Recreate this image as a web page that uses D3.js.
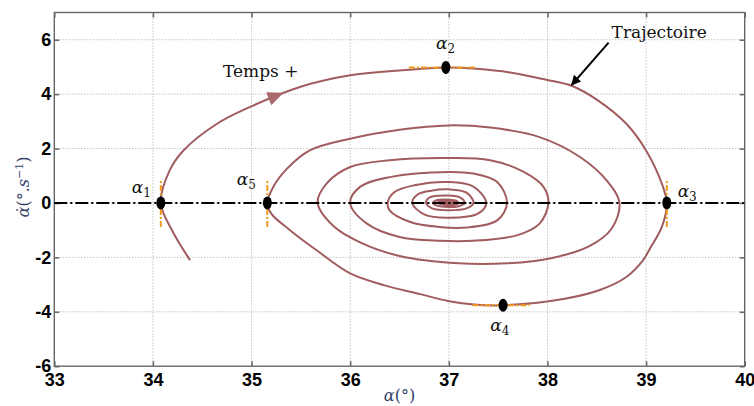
<!DOCTYPE html>
<html><head><meta charset="utf-8">
<script src="https://cdn.jsdelivr.net/npm/d3@7"></script>
<style>body{margin:0;background:#fff} svg{display:block}</style>
</head><body><svg id="c" width="754" height="406"></svg>
<script>
// ---- data ----
const xTicks = [33, 34, 35, 36, 37, 38, 39, 40];
const yTicks = [-6, -4, -2, 0, 2, 4, 6];
const xDomain = [33, 40];
const yDomain = [-6, 7];

const trajX = [34.376,34.20,34.08,34.17,34.31,34.65,34.98,35.49,36.00,36.50,36.97,37.28,37.65,37.99,38.25,38.50,38.80,39.00,39.16,39.21,39.16,39.04,38.97,38.80,38.53,38.19,37.55,37.25,36.99,36.71,36.35,36.00,35.66,35.39,35.20,35.16,
  35.22,35.36,35.59,36.00,36.50,37.00,37.42,37.92,38.33,38.60,38.73,38.65,38.42,38.05,37.59,37.10,36.50,36.10,35.83,35.67,
  35.76,36.00,36.40,37.00,37.42,37.76,37.96,38.01,37.92,37.69,37.25,36.91,36.50,36.17,36.00,
  36.10,36.40,37.00,37.25,37.49,37.59,37.49,37.18,36.90,36.61,36.40,36.38,
  36.45,36.65,37.00,37.25,37.38,37.30,37.00,36.75,36.63,
  36.68,36.82,37.00,37.18,37.25,37.18,37.00,36.83,36.77,
  36.80,37.00,37.12,37.16,37.10,37.00,36.88,36.84,
  36.87,37.00,37.08,37.10,37.05,37.00,36.92,36.89,
  36.91,37.00,37.07,37.09,37.04,36.97,36.91,
  36.93,37.00,37.06,37.07,37.03,36.96,36.94,
  36.95,37.01,37.05,37.05,37.01,36.96,
  36.97,37.02,37.04,37.00,36.98,
  36.99,37.02,37.02,37.00];
const trajY = [-2.10,-1.05,0,1.20,1.93,2.91,3.52,4.26,4.69,4.87,4.98,4.93,4.78,4.53,4.30,3.80,2.91,1.93,0.71,0,-0.88,-1.67,-2.10,-2.72,-3.20,-3.51,-3.76,-3.73,-3.60,-3.35,-3.03,-2.59,-1.74,-1.00,-0.39,0,
  0.59,1.26,1.93,2.36,2.69,2.85,2.77,2.42,1.69,0.83,0,-0.95,-1.60,-2.02,-2.22,-2.22,-1.95,-1.45,-0.85,0,
  0.71,1.32,1.57,1.65,1.57,1.14,0.59,0,-0.76,-1.19,-1.39,-1.39,-1.25,-0.76,0,
  0.59,0.95,1.14,1.08,0.77,0,-0.64,-0.90,-0.88,-0.70,-0.27,0,
  0.40,0.65,0.77,0.60,0,-0.38,-0.54,-0.42,0,
  0.30,0.45,0.50,0.38,0,-0.20,-0.27,-0.20,0,
  0.19,0.27,0.19,0,-0.12,-0.15,-0.10,0,
  0.09,0.12,0.08,0,-0.07,-0.08,-0.05,0,
  0.08,0.10,0.06,0,-0.06,-0.07,0,
  0.05,0.07,0.03,0,-0.04,-0.04,0,
  0.04,0.05,0.02,-0.02,-0.03,0,
  0.03,0.03,0,-0.02,0,
  0.01,0.01,0,0];

const markerIdx = ["1", "2", "3", "4", "5"];
const markerX = [34.08, 36.97, 39.21, 37.55, 35.16];
const markerY = [0, 4.98, 0, -3.76, 0];
const tangentDir = ["v", "h", "v", "h", "v"];
const tangentLo = [-0.88, -0.375, -0.88, -0.31, -0.88];
const tangentHi = [0.88, 0.31, 0.88, 0.27, 0.88];
const labelX = [33.785, 36.87, 39.32, 37.42, 34.85];
const labelY = [0.38, 5.65, 0.23, -4.69, 0.66];

const timeArrowAt = [35.25, 3.85];
const timeText = "Temps +", timeTextAt = [34.71, 4.64];
const trajText = "Trajectoire", trajTextAt = [38.65, 6.05];
const trajArrowFrom = [38.62, 5.89], trajArrowTo = [38.246, 4.34];

// ---- layout ----
const svg = d3.select("#c");
const L = 54.3, R = 744.7, T = 12.5, B = 366.2;
const x = d3.scaleLinear().domain(xDomain).range([L, R]);
const y = d3.scaleLinear().domain(yDomain).range([B, T]);
const trajColor = "#a05c5e";
const orange = "#f29b1c";
const serif = "'DejaVu Serif', serif";

// grid
const grid = svg.append("g");
grid.selectAll("line.vx").data(xTicks.slice(1, -1)).join("line")
  .attr("x1", d => x(d)).attr("x2", d => x(d)).attr("y1", T).attr("y2", B)
  .attr("stroke", "#a8a8a8").attr("stroke-width", 1).attr("stroke-dasharray", "1,2");
grid.selectAll("line.hy").data(yTicks.slice(1)).join("line")
  .attr("y1", d => y(d)).attr("y2", d => y(d)).attr("x1", L).attr("x2", R)
  .attr("stroke", "#a8a8a8").attr("stroke-width", 1).attr("stroke-dasharray", "1,2");

// axes
const tickFont = "bold 18px 'Liberation Sans', Arial, sans-serif";
const fmt = d => String(d);
function styleAxis(g, showText) {
  g.select(".domain").remove();
  g.selectAll(".tick line").attr("stroke", "#6a6a6a").attr("stroke-width", 1.6);
  g.selectAll(".tick text").style("font", tickFont).attr("fill", "#000");
  if (!showText) g.selectAll(".tick text").remove();
}
svg.append("g").attr("transform", `translate(0,${B})`)
  .call(d3.axisBottom(x).tickValues(xTicks).tickFormat(fmt).tickSize(-5).tickPadding(7))
  .call(g => styleAxis(g, true));
svg.append("g").attr("transform", `translate(0,${T})`)
  .call(d3.axisTop(x).tickValues(xTicks).tickSize(-5))
  .call(g => styleAxis(g, false));
svg.append("g").attr("transform", `translate(${L},0)`)
  .call(d3.axisLeft(y).tickValues(yTicks).tickFormat(fmt).tickSize(-5).tickPadding(3))
  .call(g => styleAxis(g, true));
svg.append("g").attr("transform", `translate(${R},0)`)
  .call(d3.axisRight(y).tickValues(yTicks).tickSize(-5))
  .call(g => styleAxis(g, false));
svg.append("rect").attr("x", L).attr("y", T).attr("width", R - L).attr("height", B - T)
  .attr("fill", "none").attr("stroke", "#666").attr("stroke-width", 1.4);

// trajectory
const pts = trajX.map((v, i) => [v, trajY[i]]);
const line = d3.line().x(d => x(d[0])).y(d => y(d[1])).curve(d3.curveCatmullRom.alpha(0.5));
const path = svg.append("path").attr("d", line(pts)).attr("fill", "none")
  .attr("stroke", trajColor).attr("stroke-width", 2).attr("stroke-linejoin", "round");

// zero dash-dot line
svg.append("line").attr("x1", L).attr("x2", R).attr("y1", y(0)).attr("y2", y(0))
  .attr("stroke", "#000").attr("stroke-width", 2).attr("stroke-dasharray", "13,3,2,3");

// direction arrow on trajectory
(function () {
  const node = path.node(), len = node.getTotalLength();
  const tx = x(timeArrowAt[0]), ty = y(timeArrowAt[1]);
  let best = 0, bd = Infinity;
  for (let s = 0; s < len * 0.3; s += 0.5) {
    const p = node.getPointAtLength(s); const d = (p.x - tx) ** 2 + (p.y - ty) ** 2;
    if (d < bd) { bd = d; best = s; }
  }
  const p0 = node.getPointAtLength(best - 3), p1 = node.getPointAtLength(best + 3);
  const pc = node.getPointAtLength(best);
  const ang = Math.atan2(p1.y - p0.y, p1.x - p0.x) * 180 / Math.PI;
  svg.append("path").attr("d", "M9,0 L-7,-7 L-7,7 Z")
    .attr("transform", `translate(${pc.x},${pc.y}) rotate(${ang})`)
    .attr("fill", "#a86a6c");
})();

// tangent orange lines
markerX.forEach((mx, i) => {
  const v = tangentDir[i] === "v";
  svg.append("line")
    .attr("x1", v ? x(mx) : x(mx + tangentLo[i])).attr("x2", v ? x(mx) : x(mx + tangentHi[i]))
    .attr("y1", v ? y(markerY[i] + tangentLo[i]) : y(markerY[i]))
    .attr("y2", v ? y(markerY[i] + tangentHi[i]) : y(markerY[i]))
    .attr("stroke", orange).attr("stroke-width", 2).attr("stroke-dasharray", "6,2,2,2");
});
// markers
svg.selectAll("ellipse.m").data(markerX).join("ellipse")
  .attr("cx", d => x(d)).attr("cy", (d, i) => y(markerY[i]))
  .attr("rx", 4.5).attr("ry", 6.5).attr("fill", "#000");

// marker labels
markerIdx.forEach((k, i) => {
  const t = svg.append("text").attr("x", x(labelX[i])).attr("y", y(labelY[i]))
    .style("font-family", serif).attr("fill", "#111");
  t.append("tspan").text("α").style("font-style", "italic").style("font-size", "17px");
  t.append("tspan").text(k).attr("dy", 4).style("font-size", "12px");
});

// annotations
svg.append("text").attr("x", x(timeTextAt[0])).attr("y", y(timeTextAt[1]))
  .style("font-family", serif).style("font-size", "17px").attr("fill", "#111").text(timeText);
svg.append("text").attr("x", x(trajTextAt[0])).attr("y", y(trajTextAt[1]))
  .style("font-family", serif).style("font-size", "17px").attr("fill", "#111").text(trajText);
svg.append("defs").append("marker").attr("id", "ah").attr("viewBox", "0 0 10 10")
  .attr("refX", 9).attr("refY", 5).attr("markerWidth", 5).attr("markerHeight", 5)
  .attr("orient", "auto").append("path").attr("d", "M0,0 L10,5 L0,10 Z").attr("fill", "#000");
svg.append("line").attr("x1", x(trajArrowFrom[0])).attr("y1", y(trajArrowFrom[1]))
  .attr("x2", x(trajArrowTo[0])).attr("y2", y(trajArrowTo[1]))
  .attr("stroke", "#000").attr("stroke-width", 2).attr("marker-end", "url(#ah)");

// axis labels
const labCol = "#34406a";
const xl = svg.append("text").attr("x", (L + R) / 2).attr("y", 401).attr("text-anchor", "middle")
  .style("font-family", serif).style("font-size", "16px").attr("fill", labCol);
xl.append("tspan").text("α").style("font-style", "italic");
xl.append("tspan").text("(°)");
const yl = svg.append("text").attr("transform", "translate(29,187) rotate(-90)").attr("text-anchor", "middle")
  .style("font-family", serif).style("font-size", "16px").attr("fill", labCol);
yl.append("tspan").text("α\u0307").style("font-style", "italic");
yl.append("tspan").text("(°.");
yl.append("tspan").text("s").style("font-style", "italic");
yl.append("tspan").text("−1").attr("dy", -6).style("font-size", "11px");
yl.append("tspan").text(")").attr("dy", 6);
</script></body></html>
